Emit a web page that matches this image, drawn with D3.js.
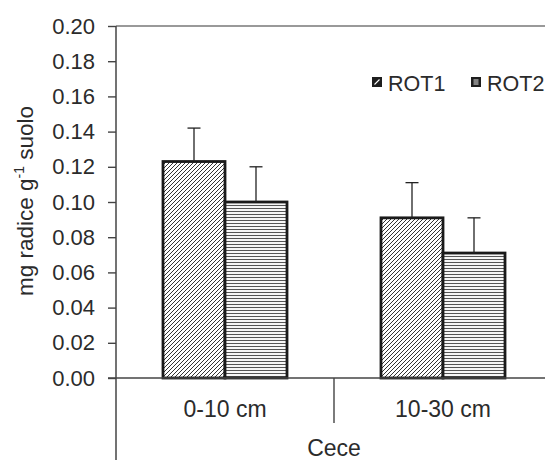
<!DOCTYPE html>
<html>
<head>
<meta charset="utf-8">
<script src="https://cdn.jsdelivr.net/npm/d3@7"></script>
<style>
  html, body { margin: 0; padding: 0; background: #fff; }
  svg { display: block; font-family: "Liberation Sans", Arial, sans-serif; }
</style>
</head>
<body>
<svg id="chart" width="545" height="460"></svg>
<script>
// Root density by depth for two rotations
const categories = ["0-10 cm", "10-30 cm"];
const seriesNames = ["ROT1", "ROT2"];
const rot1Values = [0.123, 0.091];
const rot2Values = [0.100, 0.071];
const rot1Errors = [0.019, 0.020];
const rot2Errors = [0.020, 0.020];
const yTicks = [0, 0.02, 0.04, 0.06, 0.08, 0.10, 0.12, 0.14, 0.16, 0.18, 0.20];
const groupLabel = "Cece";

const svg = d3.select("#chart");
const W = 545, H = 460;
const plotLeft = 116, plotTop = 26, plotBottom = 378;

const rows = categories.map((c, i) => ({
  cat: c,
  bars: [
    { key: seriesNames[0], v: rot1Values[i], e: rot1Errors[i] },
    { key: seriesNames[1], v: rot2Values[i], e: rot2Errors[i] }
  ]
}));

const x0 = d3.scaleBand().domain(categories).range([plotLeft, plotLeft + 2 * 218]).padding(0);
const x1 = d3.scaleBand().domain(seriesNames).range([47, 171]).padding(0);
const y = d3.scaleLinear().domain([0, 0.2]).range([plotBottom, plotTop]);

// fill patterns
const defs = svg.append("defs");
const p1 = defs.append("pattern").attr("id", "hatch-rot1")
  .attr("patternUnits", "userSpaceOnUse").attr("width", 4).attr("height", 4);
p1.append("rect").attr("width", 4).attr("height", 4).attr("fill", "#fff");
p1.append("path").attr("d", "M-1,1 L1,-1 M0,4 L4,0 M3,5 L5,3")
  .attr("stroke", "#333").attr("stroke-width", 1);
const p2 = defs.append("pattern").attr("id", "hatch-rot2")
  .attr("patternUnits", "userSpaceOnUse").attr("width", 4).attr("height", 3);
p2.append("rect").attr("width", 4).attr("height", 3).attr("fill", "#fff");
p2.append("path").attr("d", "M0,1.5 L4,1.5")
  .attr("stroke", "#555").attr("stroke-width", 1.1);
const fillFor = k => k === seriesNames[0] ? "url(#hatch-rot1)" : "url(#hatch-rot2)";

// frame: top border and axes
svg.append("line").attr("x1", plotLeft).attr("x2", W).attr("y1", y(0.2)).attr("y2", y(0.2))
  .attr("stroke", "#777").attr("stroke-width", 1.5);

const yAxis = d3.axisLeft(y).tickValues(yTicks).tickSize(8).tickPadding(13)
  .tickFormat(d3.format(".2f"));
const gy = svg.append("g").attr("transform", `translate(${plotLeft},0)`).call(yAxis);
gy.select(".domain").remove();
gy.selectAll(".tick line").attr("stroke", "#444").attr("stroke-width", 1.4);
gy.selectAll(".tick text").attr("fill", "#2b2b2b").style("font-size", "22px")
  .style("font-family", "'Liberation Sans', Arial, sans-serif");

// vertical axis line runs down through the category label area
svg.append("line").attr("x1", plotLeft).attr("x2", plotLeft).attr("y1", y(0.2)).attr("y2", H)
  .attr("stroke", "#444").attr("stroke-width", 1.5);

// bars
const groups = svg.append("g").selectAll("g").data(rows).join("g")
  .attr("transform", d => `translate(${x0(d.cat)},0)`);
groups.selectAll("rect").data(d => d.bars).join("rect")
  .attr("x", d => x1(d.key))
  .attr("y", d => y(d.v))
  .attr("width", x1.bandwidth())
  .attr("height", d => y(0) - y(d.v))
  .attr("fill", d => fillFor(d.key))
  .attr("stroke", "#1a1a1a").attr("stroke-width", 2.8);

// error bars (upper only)
const eb = groups.selectAll("g.err").data(d => d.bars).join("g").attr("class", "err")
  .attr("stroke", "#222").attr("stroke-width", 1.3);
eb.append("line")
  .attr("x1", d => x1(d.key) + x1.bandwidth() / 2).attr("x2", d => x1(d.key) + x1.bandwidth() / 2)
  .attr("y1", d => y(d.v)).attr("y2", d => y(d.v + d.e));
eb.append("line")
  .attr("x1", d => x1(d.key) + x1.bandwidth() / 2 - 6.5).attr("x2", d => x1(d.key) + x1.bandwidth() / 2 + 6.5)
  .attr("y1", d => y(d.v + d.e)).attr("y2", d => y(d.v + d.e));

// category axis
svg.append("line").attr("x1", plotLeft - 8).attr("x2", W).attr("y1", y(0)).attr("y2", y(0))
  .attr("stroke", "#444").attr("stroke-width", 1.5);
svg.append("line").attr("x1", x0(categories[1])).attr("x2", x0(categories[1]))
  .attr("y1", y(0)).attr("y2", 423)
  .attr("stroke", "#444").attr("stroke-width", 1.4);
svg.append("g").selectAll("text").data(categories).join("text")
  .attr("x", d => x0(d) + 47 + 62).attr("y", 417)
  .attr("text-anchor", "middle").attr("fill", "#2b2b2b")
  .style("font-size", "23px").text(d => d);
svg.append("text").attr("x", x0(categories[1])).attr("y", 456)
  .attr("text-anchor", "middle").attr("fill", "#2b2b2b")
  .style("font-size", "23px").text(groupLabel);

// y-axis title
const yt = svg.append("text").attr("transform", "translate(33,201) rotate(-90)")
  .attr("text-anchor", "middle").attr("fill", "#2b2b2b").style("font-size", "22.5px");
yt.append("tspan").text("mg radice g");
yt.append("tspan").attr("dy", -9).style("font-size", "14px").text("-1");
yt.append("tspan").attr("dy", 9).text(" suolo");

// legend: dark swatches with white hatch strokes
const legendX = [372, 471];
const leg = svg.append("g").selectAll("g").data(seriesNames).join("g")
  .attr("transform", (d, i) => `translate(${legendX[i]},77)`);
leg.append("rect").attr("width", 10).attr("height", 10).attr("fill", "#1e1e1e");
leg.filter(d => d === seriesNames[0]).append("line")
  .attr("x1", 2.5).attr("y1", 7.5).attr("x2", 7.5).attr("y2", 2.5)
  .attr("stroke", "#fff").attr("stroke-width", 1.1);
leg.filter(d => d === seriesNames[1]).selectAll("line").data([3, 5, 7]).join("line")
  .attr("x1", 2.5).attr("x2", 7.5).attr("y1", d => d).attr("y2", d => d)
  .attr("stroke", "#fff").attr("stroke-width", 0.9);
leg.append("text").attr("x", 16).attr("y", 14).attr("fill", "#2b2b2b")
  .style("font-size", "21.5px").text(d => d);
</script>
</body>
</html>
